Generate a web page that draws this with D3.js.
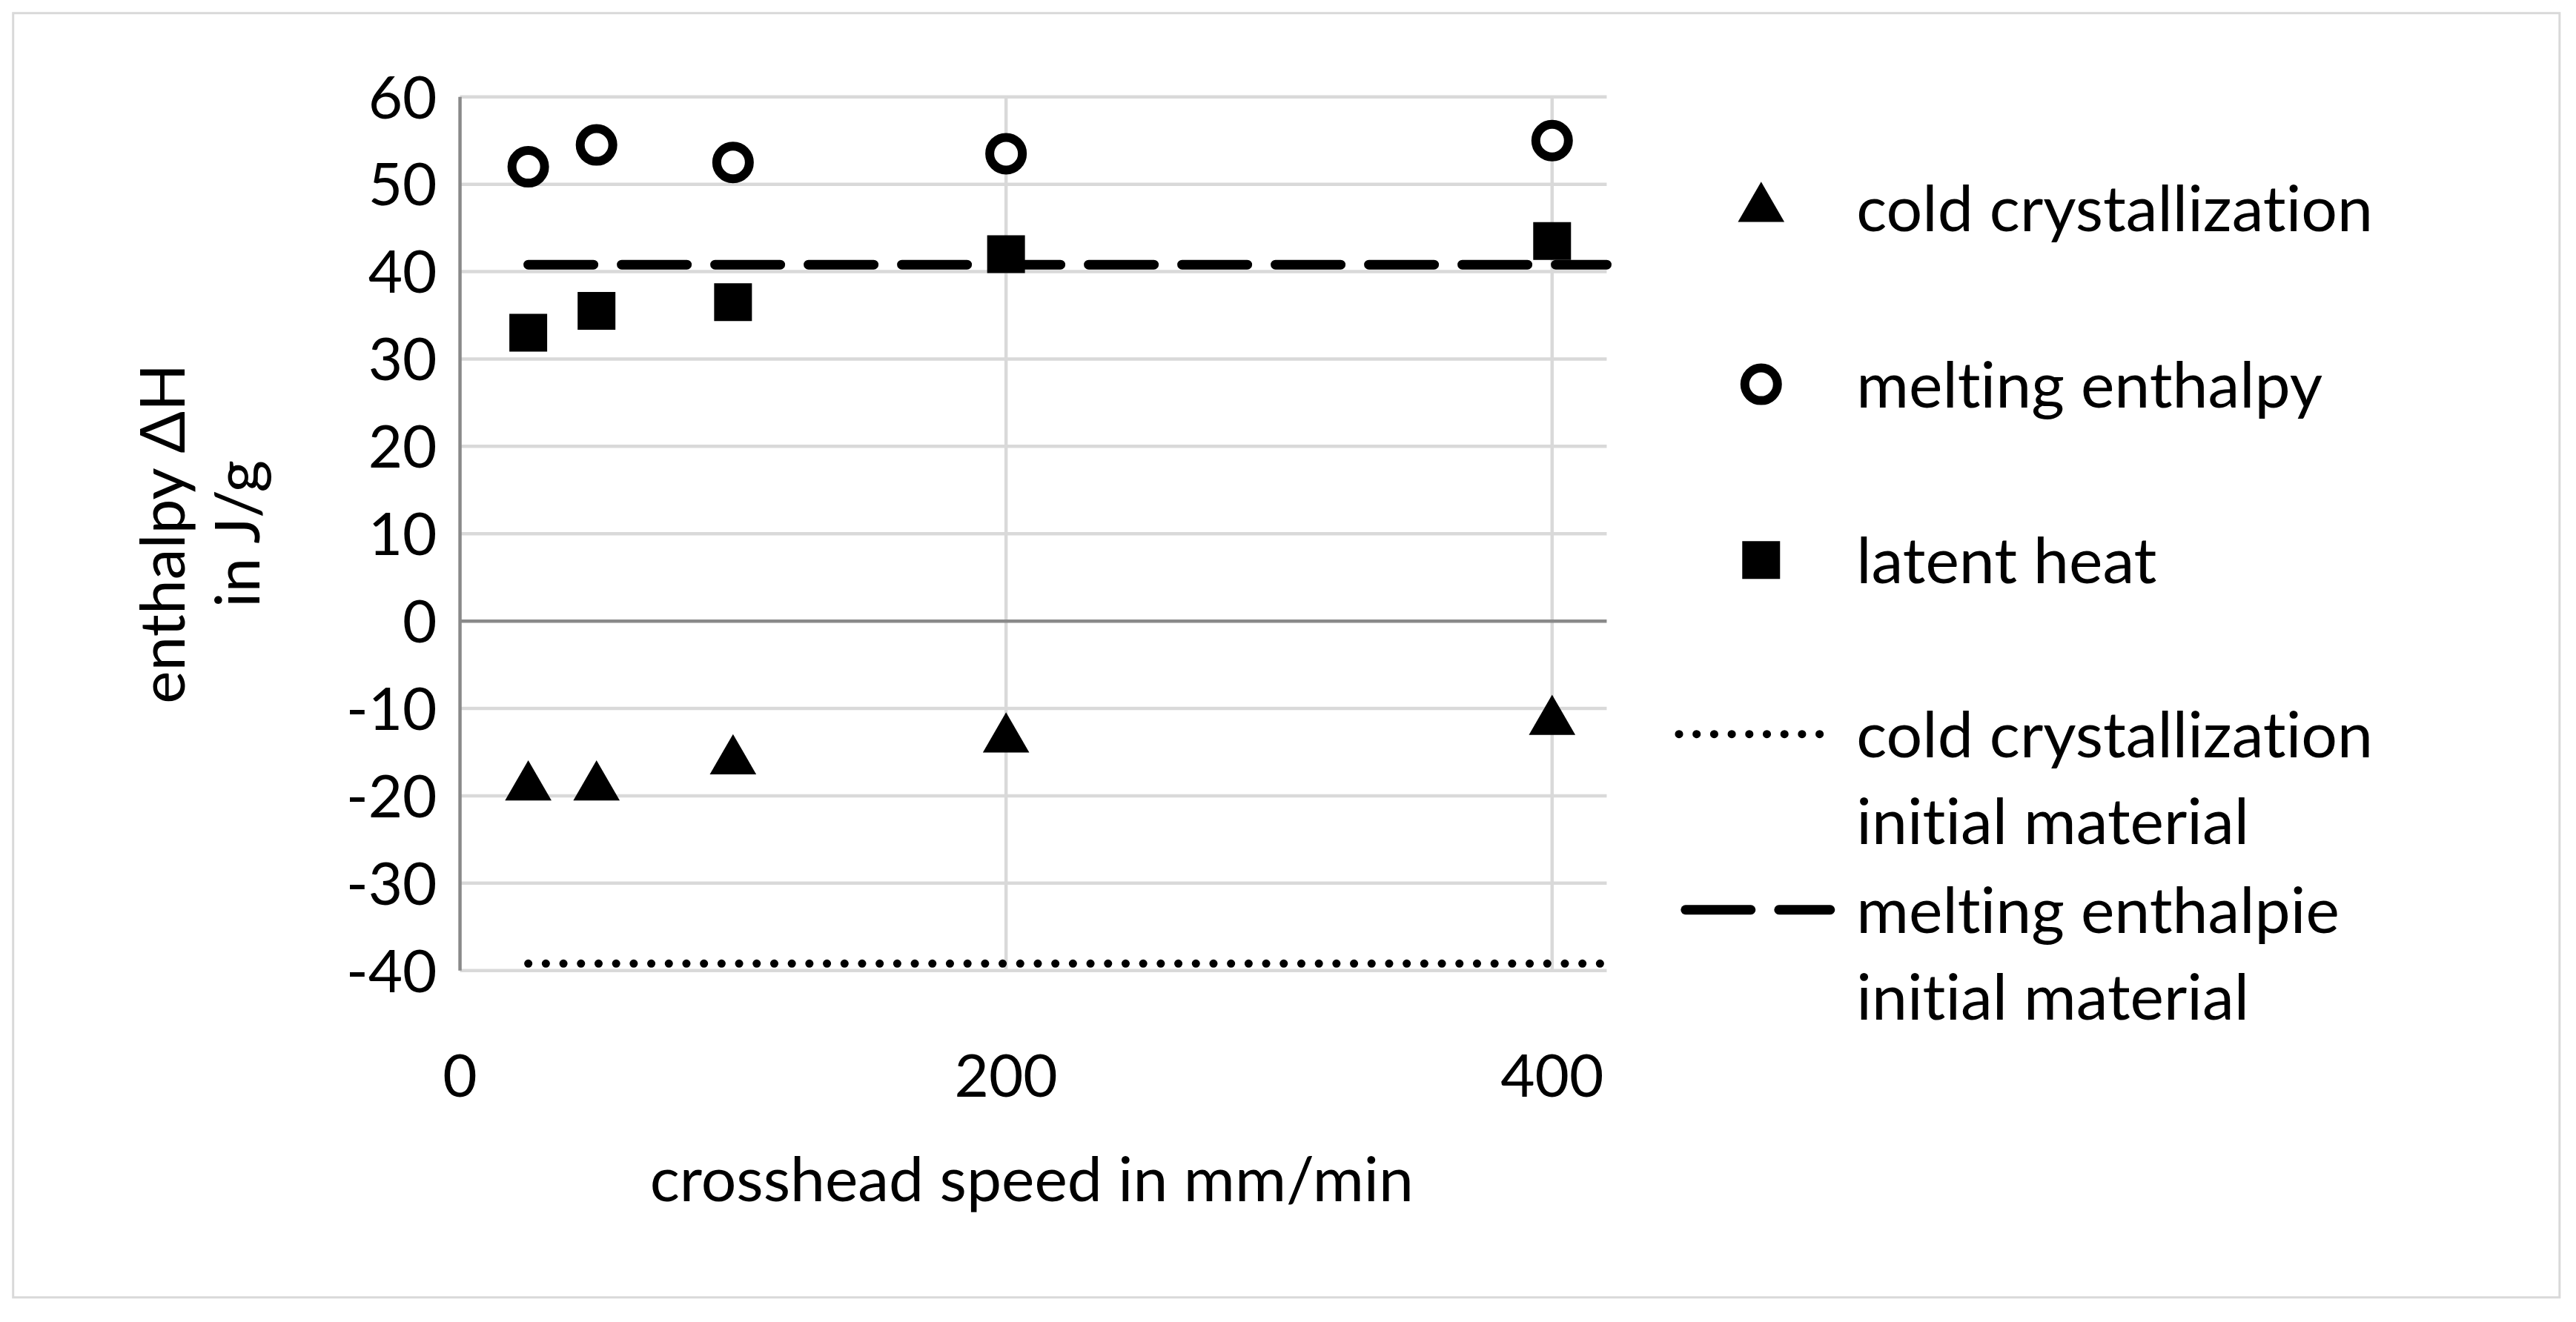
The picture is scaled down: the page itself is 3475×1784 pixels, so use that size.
<!DOCTYPE html><html><head><meta charset="utf-8"><script src="https://cdn.jsdelivr.net/npm/d3@7"></script>
<style>body{margin:0;background:#fff}text{font-family:Lato,"Open Sans",sans-serif;font-variant-ligatures:none}</style></head><body><svg id="c" width="3475" height="1784"></svg><script>
const speeds=[25,50,100,200,400];
const coldCryst=[-19,-19,-16,-13.5,-11.5];
const melting=[52,54.5,52.5,53.5,55];
const latent=[33,35.5,36.5,42,43.5];
const coldInitial=-39.2, meltInitial=40.8;
const refLineX=[25,420];
const yTicks=[60,50,40,30,20,10,0,-10,-20,-30,-40];
const xTicks=[0,200,400];
const s=3475/1568;
const svg=d3.select("#c");
svg.append("rect").attr("x",8*s).attr("y",8*s).attr("width",1550*s).attr("height",782*s).attr("fill","none").attr("stroke","#d9d9d9").attr("stroke-width",3);
const x=d3.scaleLinear().domain([0,420]).range([280*s,978*s]);
const y=d3.scaleLinear().domain([-40,60]).range([591*s,59*s]);
const g=svg.append("g");
yTicks.forEach(t=>{if(t!==0)g.append("line").attr("x1",x(0)).attr("x2",x(420)).attr("y1",y(t)).attr("y2",y(t)).attr("stroke","#d9d9d9").attr("stroke-width",4.5);});
xTicks.slice(1).forEach(t=>g.append("line").attr("x1",x(t)).attr("x2",x(t)).attr("y1",y(60)).attr("y2",y(-40)).attr("stroke","#d9d9d9").attr("stroke-width",4.5));
g.append("line").attr("x1",x(0)).attr("x2",x(0)).attr("y1",y(60)).attr("y2",y(-40)).attr("stroke","#898989").attr("stroke-width",4.5);
g.append("line").attr("x1",x(0)).attr("x2",x(420)).attr("y1",y(0)).attr("y2",y(0)).attr("stroke","#898989").attr("stroke-width",4.5);
const fs=80;
yTicks.forEach(t=>g.append("text").attr("x",x(0)-14*s).attr("y",y(t)).attr("dy","0.36em").attr("text-anchor","end").attr("font-size",fs).text(t));
xTicks.forEach(t=>g.append("text").attr("x",x(t)).attr("y",655*s).attr("dy","0.36em").attr("text-anchor","middle").attr("font-size",fs).text(t));
g.append("text").attr("x",628*s).attr("y",718*s).attr("dy","0.36em").attr("text-anchor","middle").attr("font-size",84).text("crosshead speed in mm/min");
const yt=g.append("text").attr("transform",`translate(${122*s},${325*s}) rotate(-90)`).attr("text-anchor","middle").attr("font-size",84);
yt.append("tspan").attr("x",0).attr("dy","-0.25em").text("enthalpy ΔH");
yt.append("tspan").attr("x",0).attr("dy","1.2em").text("in J/g");
const line=d3.line().x(d=>x(d[0])).y(d=>y(d[1]));
g.append("path").attr("d",line(refLineX.map(v=>[v,meltInitial]))).attr("stroke","#000").attr("stroke-width",13).attr("fill","none").attr("stroke-dasharray","88,38").attr("stroke-linecap","round");
g.append("path").attr("d",line(refLineX.map(v=>[v,coldInitial]))).attr("stroke","#000").attr("stroke-width",11).attr("fill","none").attr("stroke-dasharray","0.1,23.6").attr("stroke-linecap","round");
const tri=d3.symbol().type(d3.symbolTriangle).size(1700);
const sq=d3.symbol().type(d3.symbolSquare).size(2600);
speeds.forEach((v,i)=>{
 g.append("path").attr("d",tri()).attr("transform",`translate(${x(v)},${y(coldCryst[i])})`);
 g.append("circle").attr("cx",x(v)).attr("cy",y(melting[i])).attr("r",22).attr("fill","#fff").attr("stroke","#000").attr("stroke-width",12);
 g.append("path").attr("d",sq()).attr("transform",`translate(${x(v)},${y(latent[i])})`);
});
const lx=1072*s, tx=1130*s, lf=86;
const L=svg.append("g");
L.append("path").attr("d",tri()).attr("transform",`translate(${lx},${127*s})`);
L.append("circle").attr("cx",lx).attr("cy",234*s).attr("r",22).attr("fill","#fff").attr("stroke","#000").attr("stroke-width",12);
L.append("path").attr("d",sq()).attr("transform",`translate(${lx},${341*s})`);
L.append("line").attr("x1",1022*s).attr("x2",1116*s).attr("y1",447*s).attr("y2",447*s).attr("stroke","#000").attr("stroke-width",11).attr("stroke-dasharray","0.1,23.6").attr("stroke-linecap","round");
L.append("line").attr("x1",1026*s).attr("x2",1114*s).attr("y1",554*s).attr("y2",554*s).attr("stroke","#000").attr("stroke-width",13).attr("stroke-dasharray","88,38").attr("stroke-linecap","round");
const labs=[["cold crystallization",127],["melting enthalpy",234],["latent heat",341],["cold crystallization",447],["initial material",500],["melting enthalpie",554],["initial material",607]];
labs.forEach(([t,yy])=>L.append("text").attr("x",tx).attr("y",yy*s).attr("dy","0.36em").attr("font-size",lf).text(t));
</script></body></html>
